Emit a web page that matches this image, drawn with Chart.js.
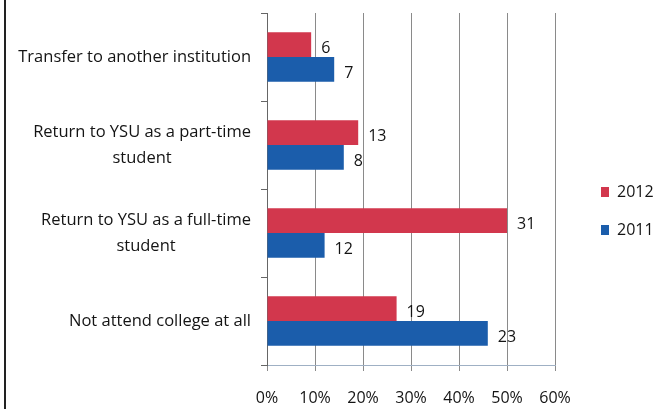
<!DOCTYPE html>
<html>
<head>
<meta charset="utf-8">
<script src="https://cdn.jsdelivr.net/npm/chart.js@4.4.0/dist/chart.umd.min.js"></script>
<style>
    html, body { margin: 0; padding: 0; background: #fff; }
    #wrap { position: relative; width: 668px; height: 409px; }
    #edge { position: absolute; left: 4px; top: 0; width: 2px; height: 409px; background: #222; }
</style>
</head>
<body>
<div id="wrap">
    <canvas id="chart" width="668" height="409"></canvas>
    <div id="edge"></div>
</div>
<script>
// categories (multi-line labels)
const categories = [
    ['Transfer to another institution'],
    ['Return to YSU as a part-time', 'student'],
    ['Return to YSU as a full-time', 'student'],
    ['Not attend college at all']
];

// bar lengths in percent
const pct2012 = [9.2, 19, 50, 27];
const pct2011 = [14, 16, 12, 46];

// numbers printed next to the bars
const count2012 = [6, 13, 31, 19];
const count2011 = [7, 8, 12, 23];

const xTicks = [0, 10, 20, 30, 40, 50, 60];

const FONT = '"Open Sans", Lato, sans-serif';
const TEXT = '#141414';

// draws the counts at the end of every bar
const countLabels = {
    id: 'countLabels',
    afterDatasetsDraw(chart) {
        const ctx = chart.ctx;
        const counts = [count2012, count2011];
        ctx.save();
        ctx.font = '16px ' + FONT;
        ctx.fillStyle = TEXT;
        ctx.textAlign = 'left';
        ctx.textBaseline = 'middle';
        chart.data.datasets.forEach((ds, i) => {
            chart.getDatasetMeta(i).data.forEach((bar, j) => {
                ctx.fillText(counts[i][j], bar.x + 10, bar.y + 4);
            });
        });
        ctx.restore();
    }
};

// category labels: block right-aligned against the axis, lines centred inside the block
const categoryLabels = {
    id: 'categoryLabels',
    afterDraw(chart) {
        const ctx = chart.ctx;
        const scale = chart.scales.y;
        const right = scale.right - 16;
        const lineH = 26;
        ctx.save();
        ctx.font = '16.5px ' + FONT;
        ctx.fillStyle = TEXT;
        ctx.textAlign = 'center';
        ctx.textBaseline = 'middle';
        categories.forEach((lines, i) => {
            const y = scale.getPixelForTick(i);
            const w = Math.max(...lines.map(s => ctx.measureText(s).width));
            const cx = right - w / 2;
            lines.forEach((s, k) => {
                ctx.fillText(s, cx, y + (k - (lines.length - 1) / 2) * lineH);
            });
        });
        ctx.restore();
    }
};

// keep the legend column as wide as in the picture and push its items right
const legendBox = {
    id: 'legendBox',
    beforeLayout(chart) {
        const lg = chart.legend;
        if (lg && !lg._patched) {
            const fit = lg.fit;
            lg.fit = function () {
                fit.call(this);
                this.width = 113;
            };
            lg._patched = true;
        }
    },
    afterLayout(chart) {
        chart.legend.left += 24;
    }
};

const ctx = document.getElementById('chart').getContext('2d');
new Chart(ctx, {
    type: 'bar',
    data: {
        labels: categories,
        datasets: [
            {
                label: '2012',
                data: pct2012,
                backgroundColor: '#d2374d',
                categoryPercentage: 0.56,
                barPercentage: 1.0
            },
            {
                label: '2011',
                data: pct2011,
                backgroundColor: '#1b5dab',
                categoryPercentage: 0.56,
                barPercentage: 1.0
            }
        ]
    },
    options: {
        indexAxis: 'y',
        responsive: false,
        animation: false,
        layout: { padding: { top: 13, left: 0, right: 0, bottom: 0 } },
        scales: {
            x: {
                min: 0,
                max: 60,
                afterBuildTicks: (scale) => { scale.ticks = xTicks.map(v => ({ value: v })); },
                afterFit: (scale) => { scale.height = 44; },
                ticks: {
                    color: TEXT,
                    font: { family: FONT, size: 16 },
                    padding: 18,
                    callback: (v) => v + '%'
                },
                grid: { color: '#8a8a8a', lineWidth: 1, tickLength: 6 },
                border: { color: '#9fb0c4', width: 1 }
            },
            y: {
                afterFit: (scale) => {
                    scale.width = 267;
                    scale.paddingTop = 0;
                    scale.paddingBottom = 0;
                },
                ticks: { display: false },
                grid: { drawOnChartArea: false, color: '#666', tickLength: 6 },
                border: { color: '#666', width: 1 }
            }
        },
        plugins: {
            legend: {
                position: 'right',
                align: 'center',
                labels: {
                    boxWidth: 8,
                    boxHeight: 10,
                    padding: 22,
                    color: TEXT,
                    font: { family: FONT, size: 16 }
                }
            },
            tooltip: { enabled: false }
        }
    },
    plugins: [countLabels, categoryLabels, legendBox]
});
</script>
</body>
</html>
